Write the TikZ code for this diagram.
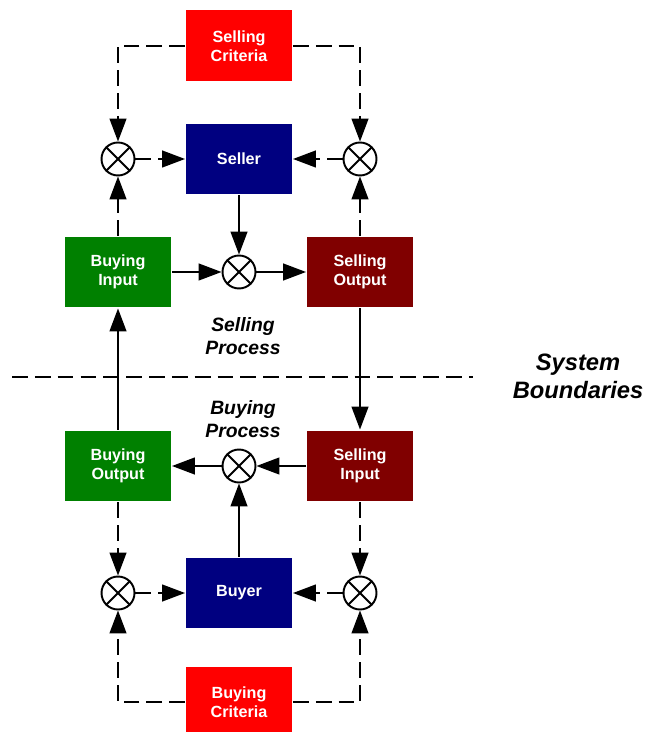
\documentclass[tikz,border=0pt]{standalone}
\usepackage{fontspec}
\setmainfont{Liberation Sans}
\usetikzlibrary{arrows.meta}

\definecolor{critred}{HTML}{FF0000}
\definecolor{agentblue}{HTML}{000080}
\definecolor{buygreen}{HTML}{008000}
\definecolor{sellred}{HTML}{800000}

\begin{document}
\begin{tikzpicture}[x=0.02cm, y=-0.02cm, line width=1.1pt,
        >={Triangle[length=13pt, width=9.5pt]},
        block/.style={minimum width=2.12cm, minimum height=1.42cm, inner sep=0pt,
            text=white, align=center, font=\fontsize{9.2}{10.8}\selectfont\bfseries},
        mixer/.style={circle, draw, fill=white, minimum size=0.66cm, inner sep=0pt},
        link/.style={dash pattern=on 9pt off 4pt},
        caption/.style={align=center, font=\fontsize{11}{13}\selectfont\bfseries\itshape}]

        \useasboundingbox (0,0) rectangle (646,732);

        % The six blocks and the two criteria.
        \node[block, fill=critred]    (sellcrit) at (239, 46)  {Selling\\Criteria};
        \node[block, fill=agentblue]  (seller)   at (239, 159) {Seller};
        \node[block, fill=buygreen]   (buyin)    at (118, 272) {Buying\\Input};
        \node[block, fill=sellred]    (sellout)  at (360, 272) {Selling\\Output};
        \node[block, fill=buygreen]   (buyout)   at (118, 466) {Buying\\Output};
        \node[block, fill=sellred]    (sellin)   at (360, 466) {Selling\\Input};
        \node[block, fill=agentblue]  (buyer)    at (239, 593) {Buyer};
        \node[block, fill=critred]    (buycrit)  at (239, 702) {Buying\\Criteria};

        % Mixing points.
        \node[mixer] (mA) at (118, 159) {};
        \node[mixer] (mB) at (360, 159) {};
        \node[mixer] (mC) at (239, 272) {};
        \node[mixer] (mD) at (239, 466) {};
        \node[mixer] (mE) at (118, 593) {};
        \node[mixer] (mF) at (360, 593) {};
        \foreach \m in {mA, mB, mC, mD, mE, mF} {
            \draw (\m.45) -- (\m.225);
            \draw (\m.135) -- (\m.315);
        }

        % Selling side.
        \draw[->, link] (sellcrit.west) -| (mA.north);
        \draw[->, link] (sellcrit.east) -| (mB.north);
        \draw[->, link] (mA) -- (seller);
        \draw[->, link] (mB) -- (seller);
        \draw[->, link] (buyin) -- (mA);
        \draw[->, link] (sellout) -- (mB);
        \draw[->] (seller) -- (mC);
        \draw[->] (buyin) -- (mC);
        \draw[->] (mC) -- (sellout);

        % Crossing the boundary.
        \draw[->] (sellout) -- (sellin);
        \draw[->] (buyout) -- (buyin);

        % Buying side.
        \draw[->] (sellin) -- (mD);
        \draw[->] (mD) -- (buyout);
        \draw[->] (buyer) -- (mD);
        \draw[->, link] (buyout) -- (mE);
        \draw[->, link] (sellin) -- (mF);
        \draw[->, link] (mE) -- (buyer);
        \draw[->, link] (mF) -- (buyer);
        \draw[->, link] (buycrit.west) -| (mE.south);
        \draw[->, link] (buycrit.east) -| (mF.south);

        % System boundary and labels.
        \draw[link] (12, 377) -- (473, 377);
        \node[caption] (sellproc) at (243, 336) {Selling\\Process};
        \node[caption] (buyproc)  at (243, 419) {Buying\\Process};
        \node[caption, font=\fontsize{13.5}{16}\selectfont\bfseries\itshape]
            (sysbound) at (578, 376) {System\\Boundaries};
\end{tikzpicture}
\end{document}
